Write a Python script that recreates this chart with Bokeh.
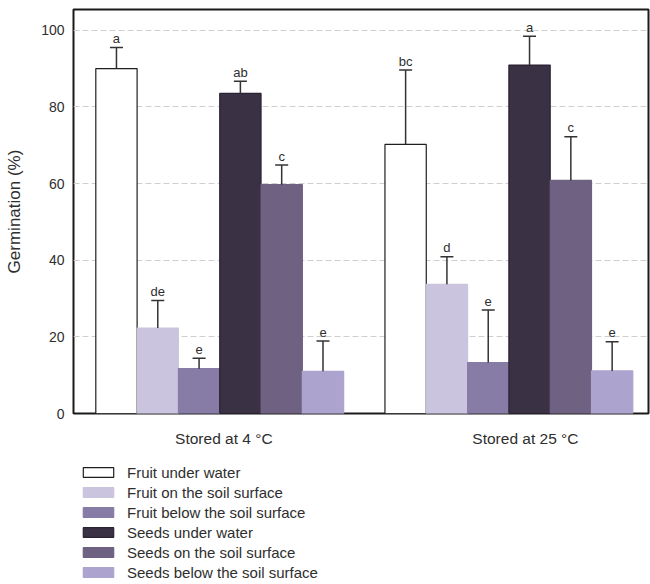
from bokeh.plotting import figure
from bokeh.layouts import column
from bokeh.models import Range1d, FixedTicker, Legend, LegendItem, ColumnDataSource
from bokeh.core.properties import value
from bokeh.embed import file_html
from bokeh.resources import INLINE

# ---------------- data ----------------
groups = ["Stored at 4 \u00b0C", "Stored at 25 \u00b0C"]
series = ["Fruit under water", "Fruit on the soil surface", "Fruit below the soil surface",
          "Seeds under water", "Seeds on the soil surface", "Seeds below the soil surface"]
means_4 = [90.0, 22.3, 11.7, 83.5, 59.7, 11.0]
se_4 = [5.5, 7.2, 2.7, 3.2, 5.1, 7.9]
letters_4 = ["a", "de", "e", "ab", "c", "e"]
means_25 = [70.2, 33.7, 13.3, 90.9, 60.8, 11.1]
se_25 = [19.4, 7.2, 13.7, 7.5, 11.4, 7.6]
letters_25 = ["bc", "d", "e", "a", "c", "e"]
y_ticks = [0, 20, 40, 60, 80, 100]

colors = ["#ffffff", "#cbc4de", "#877ca6", "#3a3145", "#6e6181", "#ada3cf"]
outlines = ["#1e1e1e", "#cbc4de", "#877ca6", "#2a2233", "#6e6181", "#ada3cf"]
FONT = "Liberation Sans"
TXT = "#2e2e2e"

n = len(series)
group_pos = [1, n + 2]  # first bar position of each group

# ---------------- main chart ----------------
p = figure(width=650, height=450, output_backend="svg", toolbar_location=None,
           x_range=Range1d(-0.04, 13.88), y_range=Range1d(0, 105.4),
           min_border_left=73, min_border_right=2, min_border_top=9, min_border_bottom=37)

for i, name in enumerate(series):
    xs = [group_pos[0] + i, group_pos[1] + i]
    tops = [means_4[i], means_25[i]]
    p.vbar(x=xs, top=tops, width=1.0, bottom=0, fill_color=colors[i],
           line_color=outlines[i], line_width=1.2)

ex, ey0, ey1, lab = [], [], [], []
for g, (m, s, l) in enumerate([(means_4, se_4, letters_4), (means_25, se_25, letters_25)]):
    for i in range(n):
        ex.append(group_pos[g] + i)
        ey0.append(m[i])
        ey1.append(m[i] + s[i])
        lab.append(l[i])
src = ColumnDataSource(dict(x=ex, y0=ey0, y1=ey1, lab=lab))
p.segment(x0="x", y0="y0", x1="x", y1="y1", source=src, line_color="#333333", line_width=1.5)
p.scatter(x="x", y="y1", marker="dash", size=13, source=src, line_color="#333333", line_width=1.5)
p.text(x="x", y="y1", text="lab", source=src, text_align="center", text_baseline="alphabetic",
       y_offset=-9, text_font=value(FONT), text_font_size="13px", text_color=TXT)

p.yaxis.ticker = FixedTicker(ticks=y_ticks)
p.yaxis.axis_label = "Germination (%)"
p.yaxis.axis_label_text_font = FONT
p.yaxis.axis_label_text_font_style = "normal"
p.yaxis.axis_label_text_font_size = "17px"
p.yaxis.axis_label_text_color = TXT
p.yaxis.axis_label_standoff = 14
p.yaxis.major_label_text_font = FONT
p.yaxis.major_label_text_font_size = "14px"
p.yaxis.major_label_text_color = TXT
p.yaxis.major_label_standoff = 9

p.xaxis.ticker = FixedTicker(ticks=[3.6, 10.9])
p.xaxis.major_label_overrides = {3.6: groups[0], 10.9: groups[1]}
p.xaxis.major_label_text_font = FONT
p.xaxis.major_label_text_font_size = "15.5px"
p.xaxis.major_label_text_color = TXT
p.xaxis.major_label_standoff = 16

for ax in (p.xaxis, p.yaxis):
    ax.axis_line_color = None
    ax.major_tick_line_color = None
    ax.minor_tick_line_color = None
    ax.major_tick_out = 0
    ax.major_tick_in = 0
    ax.minor_tick_out = 0

p.xgrid.grid_line_color = None
p.ygrid.ticker = FixedTicker(ticks=y_ticks)
p.ygrid.grid_line_color = "#cfcfcf"
p.ygrid.grid_line_dash = "6 3"
p.ygrid.grid_line_width = 1

p.outline_line_color = "#1a1a1a"
p.outline_line_width = 2
p.outline_line_alpha = 1.0

# ---------------- legend panel ----------------
lg = figure(width=650, height=134, output_backend="svg", toolbar_location=None,
            x_range=Range1d(-0.04, 13.88), y_range=Range1d(-2, -1),
            x_axis_location=None, y_axis_location=None,
            min_border_left=0, min_border_right=0, min_border_top=0, min_border_bottom=0)
lg.grid.grid_line_color = None
lg.outline_line_color = None

legend_items = []
for i, name in enumerate(series):
    xs = [group_pos[0] + i, group_pos[1] + i]
    tops = [means_4[i], means_25[i]]
    r = lg.vbar(x=xs, top=tops, width=1.0, bottom=0, fill_color=colors[i],
                line_color=outlines[i], line_width=1.2)
    r.visible = False  # proxies: only their legend swatches are shown
    legend_items.append(LegendItem(label=name, renderers=[r]))

legend = Legend(items=legend_items, location=(6, 3), orientation="vertical",
                glyph_width=38, glyph_height=12, label_height=18, spacing=2,
                label_standoff=10, padding=0, margin=0, click_policy="none",
                label_text_font=FONT, label_text_font_size="15px", label_text_color=TXT,
                border_line_color=None, background_fill_alpha=0)
lg.add_layout(legend, "center")

layout = column(p, lg, spacing=0)
open("out.html", "w").write(file_html(layout, INLINE))
